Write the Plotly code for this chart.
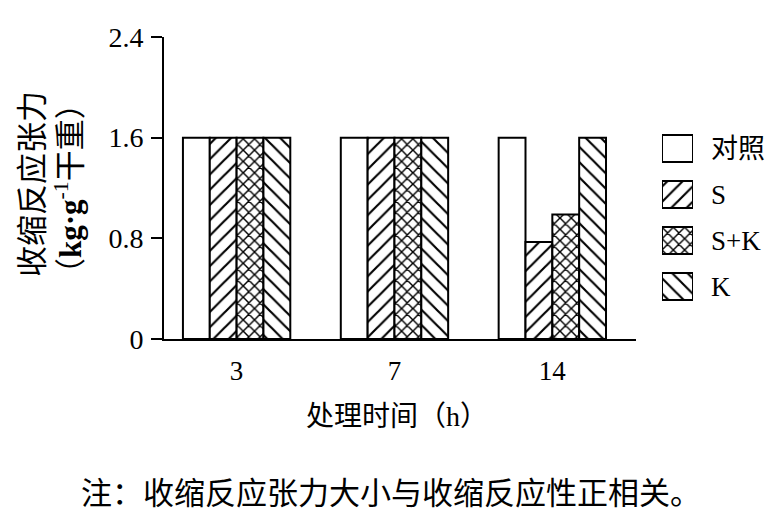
import plotly.graph_objects as go

# ---- data ----
categories = ["3", "7", "14"]
series_names = ["对照", "S", "S+K", "K"]
control = [1.6, 1.6, 1.6]
s_vals = [1.6, 1.6, 0.77]
sk_vals = [1.6, 1.6, 0.99]
k_vals = [1.6, 1.6, 1.6]
series_values = [control, s_vals, sk_vals, k_vals]
patterns = ["", "/", "x", "\\"]
pattern_sizes = [10, 10.8, 8.0, 10.8]
pattern_solid = [0.2, 0.2, 0.33, 0.2]
y_ticks = [0, 0.8, 1.6, 2.4]
y_ticklabels = ["0", "0.8", "1.6", "2.4"]

# page has an 8px body margin, so the figure is drawn 8px smaller
OFF = 8
W, H = 781 - OFF, 520 - OFF
X0, X1 = 164, 636      # plot area in screen px (reference)
Y0, Y1 = 37, 339
ML = X0 - OFF
MT = Y0 - OFF
MB = H - (Y1 - OFF)
MR = 10
PW = W - ML - MR
PH = H - MT - MB


def px_x(p):
    return (p - X0) / PW


def px_y(p):
    return (Y1 - p) / PH


FONT = "Liberation Serif, Noto Sans CJK SC"
CJK = "Noto Sans CJK SC, Liberation Serif"

fig = go.Figure()
for name, vals, pat, sz, so in zip(series_names, series_values, patterns, pattern_sizes, pattern_solid):
    fig.add_trace(go.Bar(
        x=categories, y=vals, name=name,
        marker=dict(color="white", line=dict(color="black", width=2),
                    pattern=dict(shape=pat, fgcolor="black", bgcolor="white",
                                 size=sz, solidity=so, fillmode="replace")),
        showlegend=False,
    ))

# legend swatches on a small helper axis
fig.add_trace(go.Bar(
    x=[1] * len(series_names), y=list(range(len(series_names))), orientation="h",
    xaxis="x2", yaxis="y2", width=0.587, cliponaxis=False, showlegend=False,
    marker=dict(color="white", line=dict(color="black", width=2),
                pattern=dict(shape=patterns, fgcolor="black", bgcolor="white",
                             size=pattern_sizes, solidity=pattern_solid,
                             fillmode="replace")),
    hoverinfo="skip",
))

annotations = []
for i, nm in enumerate(series_names):
    annotations.append(dict(text=nm, xref="paper", yref="y2", x=px_x(709), y=i,
                            xanchor="left", yanchor="middle", showarrow=False,
                            font=dict(family=FONT, size=27, color="black")))

annotations += [
    dict(text="收缩反应张力", xref="paper", yref="paper", x=px_x(29), y=px_y(184),
         textangle=-90, showarrow=False, xanchor="center", yanchor="middle",
         font=dict(family=CJK, size=31, color="black")),
    dict(text="（<b>kg·g</b><sup>-1</sup>干重）", xref="paper", yref="paper", x=px_x(68), y=px_y(189),
         textangle=-90, showarrow=False, xanchor="center", yanchor="middle",
         font=dict(family=FONT, size=31, color="black")),
    dict(text="处理时间（h）", xref="paper", yref="paper", x=px_x(397), y=px_y(416),
         showarrow=False, xanchor="center", yanchor="middle",
         font=dict(family=FONT, size=28, color="black")),
    dict(text="注：收缩反应张力大小与收缩反应性正相关。", xref="paper", yref="paper",
         x=px_x(391), y=px_y(490), showarrow=False, xanchor="center", yanchor="middle",
         font=dict(family=CJK, size=31, color="black")),
]

fig.update_layout(
    width=W, height=H,
    margin=dict(l=ML, r=MR, t=MT, b=MB, pad=0),
    paper_bgcolor="white", plot_bgcolor="white",
    barmode="group", bargap=0.32, bargroupgap=0,
    font=dict(family=FONT, size=27, color="black"),
    xaxis=dict(domain=[0, (X1 - X0) / PW], type="category", range=[-0.46, 2.53],
               showline=True, linecolor="black", linewidth=2, ticks="",
               showgrid=False, zeroline=False, ticklabelstandoff=7,
               tickfont=dict(family=FONT, size=27, color="black")),
    yaxis=dict(range=[0, 2.4], tickvals=y_ticks, ticktext=y_ticklabels,
               showline=True, linecolor="black", linewidth=2,
               ticks="outside", ticklen=11, tickwidth=2, tickcolor="black",
               showgrid=False, zeroline=False, ticklabelstandoff=2,
               tickfont=dict(family=FONT, size=28, color="black")),
    xaxis2=dict(domain=[px_x(662), px_x(693)], range=[0, 1], anchor="y2",
                visible=False, fixedrange=True),
    yaxis2=dict(domain=[px_y(309.5), px_y(125.5)], range=[3.5, -0.5], anchor="x2",
                visible=False, fixedrange=True),
    annotations=annotations,
)

fig.write_html("out.html")
